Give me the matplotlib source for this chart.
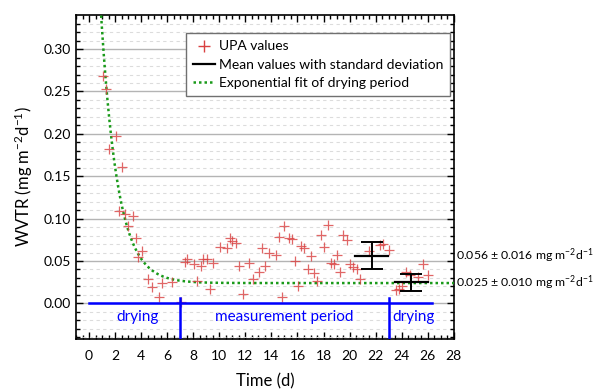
import numpy as np
import matplotlib.pyplot as plt
from matplotlib.transforms import blended_transform_factory
from matplotlib.lines import Line2D

plt.rcParams['font.family'] = ['Lato', 'DejaVu Sans']
plt.rcParams['mathtext.fontset'] = 'custom'
plt.rcParams['mathtext.rm'] = 'Lato'
plt.rcParams['mathtext.it'] = 'Lato:italic'

# UPA values (time in days, WVTR)
t_upa = [1.07, 1.30, 1.53, 2.07, 2.53, 2.28, 2.78, 3.35, 3.01, 3.60, 4.07, 3.79,
         4.55, 4.83, 5.58, 5.35, 6.34, 7.08, 7.33, 7.54, 8.06, 8.57, 8.77, 9.08,
         9.54, 8.31, 9.28, 10.05, 10.57, 10.82, 11.0, 11.28, 11.54, 12.3, 11.79,
         12.56, 13.05, 13.53, 13.3, 13.79, 14.33, 14.6, 14.82, 15.0, 15.37, 15.58,
         16.27, 16.52, 15.81, 17.04, 16.06, 16.83, 17.29, 17.52, 18.31, 17.78,
         18.03, 18.55, 18.8, 19.05, 19.28, 19.51, 19.82, 20.03, 20.28, 20.54,
         20.8, 21.51, 22.3, 22.54, 23.05, 23.6, 23.79, 24.0, 24.3, 24.63, 25.27,
         25.6, 26.0]
w_upa = [0.268, 0.253, 0.182, 0.198, 0.161, 0.109, 0.106, 0.1035, 0.091, 0.077,
         0.0615, 0.0545, 0.0286, 0.019, 0.024, 0.008, 0.0255, 0.0015, 0.0486,
         0.0525, 0.0467, 0.044, 0.0525, 0.0525, 0.0475, 0.026, 0.017, 0.067,
         0.0655, 0.0773, 0.074, 0.071, 0.0443, 0.048, 0.0114, 0.0286, 0.0376,
         0.0447, 0.0655, 0.060, 0.0576, 0.078, 0.0074, 0.091, 0.0773, 0.076,
         0.0674, 0.0655, 0.0498, 0.0565, 0.021, 0.0408, 0.0357, 0.026, 0.0925,
         0.081, 0.067, 0.0475, 0.0467, 0.0576, 0.0365, 0.081, 0.075, 0.046,
         0.0435, 0.041, 0.029, 0.0624, 0.069, 0.070, 0.0635, 0.0153, 0.017,
         0.021, 0.0368, 0.0337, 0.031, 0.0467, 0.033]

# mean values with standard deviation
mean_t = [21.7, 24.75]
mean_w = [0.056, 0.025]
mean_sd = [0.016, 0.010]
mean_labels = ['0.056 $\\pm$ 0.016 mg m$^{-2}$d$^{-1}$',
               '0.025 $\\pm$ 0.010 mg m$^{-2}$d$^{-1}$']

# exponential fit of drying period: y = a*exp(-k*t) + c
fit_a, fit_k, fit_c = 0.65, 0.78, 0.024

# periods
period_edges = [7, 23]
period_names = ['drying', 'measurement period', 'drying']
period_pos = [3.7, 15.0, 24.9]

blue = '#0000ff'
red = '#d94040'
green = '#1a9a1a'

fig = plt.figure(figsize=(5.94, 3.89), dpi=100)
ax = fig.add_axes([0.128, 0.1285, 0.636, 0.8325])

# grid
ax.set_yticks(np.arange(0, 0.31, 0.05))
ax.set_yticks(np.arange(-0.04, 0.34, 0.01), minor=True)
ax.set_xticks(np.arange(0, 29, 2))
ax.set_xticks(np.arange(-1, 28.1, 0.5), minor=True)
ax.grid(True, which='major', axis='y', color='#b4b4b4', lw=1.0, zorder=0)
ax.grid(True, which='minor', axis='y', color='#dcdcdc', lw=0.8, ls=(0, (3, 3)), zorder=0)

# fit
tf = np.linspace(0, 28, 400)
ax.plot(tf, fit_a * np.exp(-fit_k * tf) + fit_c, ls=(0, (1, 1.2)), color=green, lw=1.8, zorder=3)

# scatter
ax.plot(t_upa, w_upa, ls='none', marker='+', ms=7, mew=0.9, color=red, alpha=0.8, zorder=4)

# means with sd
for mt, mw, sd in zip(mean_t, mean_w, mean_sd):
    ax.plot([mt - 1.25, mt + 1.25], [mw, mw], color='black', lw=1.6, zorder=5)
    ax.errorbar(mt, mw, yerr=sd, fmt='none', ecolor='black', elinewidth=1.4,
                capsize=8, capthick=1.4, zorder=5)

# period markers
ax.plot([0, 26.3], [0, 0], color=blue, lw=1.8, zorder=6)
for e in period_edges:
    ax.plot([e, e], [-0.045, 0.006], color=blue, lw=1.8, zorder=6)
for name, p in zip(period_names, period_pos):
    ax.text(p, -0.0165, name, color=blue, fontsize=11, ha='center', va='center')

# right-hand labels
trans = blended_transform_factory(ax.transAxes, ax.transData)
for mw, lab in zip(mean_w, mean_labels):
    ax.text(1.006, mw, lab, transform=trans, fontsize=8.8, ha='left', va='center')

ax.set_xlim(-1, 28)
ax.set_ylim(-0.042, 0.34)
ax.set_yticklabels(['%.2f' % v for v in np.arange(0, 0.31, 0.05)])

ax.tick_params(which='both', direction='in', top=True, right=True, labelsize=10, width=1.0)
ax.tick_params(which='major', length=5)
ax.tick_params(which='minor', length=3)
ax.tick_params(axis='x', pad=8)
for s in ax.spines.values():
    s.set_linewidth(1.2)

ax.set_xlabel('Time (d)', fontsize=12, labelpad=8)
ax.set_ylabel('WVTR (mg m$^{-2}$d$^{-1}$)', fontsize=12, labelpad=6)

handles = [Line2D([], [], ls='none', marker='+', ms=8, color=red),
           Line2D([], [], color='black', lw=1.6),
           Line2D([], [], ls=(0, (1, 1.2)), color=green, lw=1.8)]
labels = ['UPA values', 'Mean values with standard deviation', 'Exponential fit of drying period']
leg = ax.legend(handles, labels, loc='upper left', bbox_to_anchor=(0.272, 0.965),
                fontsize=10, fancybox=False, edgecolor='#707070', framealpha=1,
                handlelength=1.6, handletextpad=0.3, borderpad=0.5, labelspacing=0.45)
leg.get_frame().set_linewidth(1.0)

fig.savefig('out.png', dpi=100)
